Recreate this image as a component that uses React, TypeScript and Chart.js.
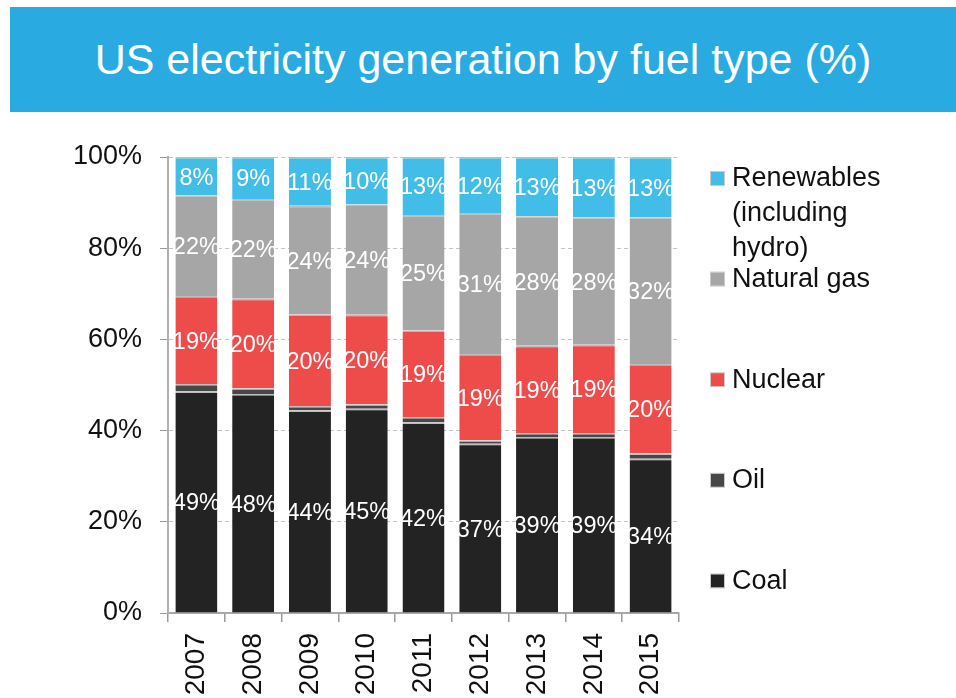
import React, { useEffect, useRef } from "react";
import { Chart, registerables } from "chart.js";

Chart.register(...registerables);

// ---- data (percent of US electricity generation) ----
const years = ["2007", "2008", "2009", "2010", "2011", "2012", "2013", "2014", "2015"];
const coal = [48.6, 48.0, 44.4, 44.8, 41.8, 37.1, 38.6, 38.6, 33.8];
const oil = [1.6, 1.3, 1.0, 1.0, 1.2, 0.8, 0.9, 0.9, 1.2];
const nuclear = [19.3, 19.6, 20.1, 19.6, 19.0, 18.9, 19.1, 19.3, 19.6];
const naturalGas = [22.1, 21.9, 23.8, 24.2, 25.3, 30.9, 28.4, 28.0, 32.2];
const renewables = [8.4, 9.2, 10.7, 10.4, 12.7, 12.3, 13.0, 13.2, 13.2];
const yTickValues = [0, 20, 40, 60, 80, 100];
const titleText = "US electricity generation by fuel type (%)";
const seriesNames = ["Coal", "Oil", "Nuclear", "Natural gas", "Renewables\n(including\nhydro)"];
const seriesColors = ["#232323", "#474747", "#EE4B4B", "#A6A6A6", "#41BDE8"];
const labelledSeries = [true, false, true, true, true];

const FONT = '"Liberation Sans", Arial, Helvetica, sans-serif';

const valueLabelPlugin = {
  id: "valueLabels",
  afterDatasetsDraw(chart: any) {
    const ctx = chart.ctx;
    ctx.save();
    ctx.font = `23.5px ${FONT}`;
    ctx.fillStyle = "#ffffff";
    ctx.textAlign = "center";
    ctx.textBaseline = "middle";
    chart.data.datasets.forEach((ds: any, di: number) => {
      if (!labelledSeries[di]) return;
      const meta = chart.getDatasetMeta(di);
      meta.data.forEach((bar: any, i: number) => {
        const p = bar.getProps(["x", "y", "base"], true);
        ctx.fillText(Math.round(ds.data[i]) + "%", p.x, (p.y + p.base) / 2 + 2);
      });
    });
    ctx.restore();
  },
};

const sideLegendPlugin = {
  id: "sideLegend",
  afterDraw(chart: any) {
    const ctx = chart.ctx;
    const legendX = 711;
    const legendTop = 178;
    const step = 100.6;
    const lineH = 35;
    ctx.save();
    ctx.font = `27px ${FONT}`;
    ctx.textBaseline = "middle";
    ctx.textAlign = "left";
    const ds = chart.data.datasets.slice().reverse();
    ds.forEach((d: any, i: number) => {
      const y = legendTop + i * step;
      ctx.fillStyle = d.backgroundColor;
      ctx.fillRect(legendX, y - 6, 13, 13);
      ctx.strokeStyle = "rgba(150,150,150,0.5)";
      ctx.lineWidth = 1;
      ctx.strokeRect(legendX - 0.5, y - 6.5, 14, 14);
      ctx.fillStyle = "#111111";
      String(d.label)
        .split("\n")
        .forEach((line: string, j: number) => ctx.fillText(line, legendX + 21, y + 1 + j * lineH));
    });
    ctx.restore();
  },
};

export default function App() {
  const canvasRef = useRef<HTMLCanvasElement | null>(null);

  useEffect(() => {
    if (!canvasRef.current) return;
    Chart.defaults.font.family = FONT;
    const seriesData = [coal, oil, nuclear, naturalGas, renewables];
    const chart = new Chart(canvasRef.current, {
      type: "bar",
      data: {
        labels: years,
        datasets: seriesData.map((d, i) => ({
          label: seriesNames[i],
          data: d,
          backgroundColor: seriesColors[i],
          borderColor: "#bdbdbd",
          borderWidth: { top: 1.5, bottom: 0, left: 0, right: 0 },
          borderSkipped: false,
          barPercentage: 0.74,
          categoryPercentage: 1,
        })),
      },
      options: {
        animation: false,
        responsive: false,
        maintainAspectRatio: false,
        layout: { padding: { left: 60, top: 157, right: 277, bottom: 0 } },
        plugins: {
          legend: { display: false },
          title: { display: false },
          tooltip: { enabled: false },
        },
        scales: {
          x: {
            stacked: true,
            afterFit: (axis: any) => {
              axis.height = 85;
            },
            grid: {
              display: true,
              offset: true,
              drawOnChartArea: false,
              drawTicks: true,
              tickLength: 9,
              color: "#9a9a9a",
              lineWidth: 1.5,
            },
            border: { display: true, color: "#a8a8a8", width: 2 },
            ticks: {
              autoSkip: false,
              minRotation: 90,
              maxRotation: 90,
              padding: 11,
              color: "#111111",
              font: { size: 28, family: FONT },
            },
          },
          y: {
            stacked: true,
            min: 0,
            max: 100,
            afterFit: (axis: any) => {
              axis.width = 108;
            },
            afterBuildTicks: (axis: any) => {
              axis.ticks = yTickValues.map((v) => ({ value: v }));
            },
            grid: {
              display: true,
              drawOnChartArea: true,
              drawTicks: true,
              tickLength: 8,
              color: "#c4c4c4",
              lineWidth: 1,
              tickColor: "#9a9a9a",
            },
            border: { display: true, color: "#b0b0b0", width: 2, dash: [4, 3] },
            ticks: {
              padding: 18,
              color: "#111111",
              font: { size: 27, family: FONT },
              callback: (v: any) => v + "%",
            },
          },
        },
      },
      plugins: [valueLabelPlugin, sideLegendPlugin],
    } as any);
    return () => chart.destroy();
  }, []);

  return (
    <div style={{ position: "absolute", left: 0, top: 0, width: 956, height: 698, background: "#ffffff", overflow: "hidden" }}>
      <div
        style={{
          position: "absolute",
          left: 10,
          top: 7,
          width: 946,
          height: 105,
          background: "#29ABE2",
          color: "#ffffff",
          fontFamily: FONT,
          fontSize: 43,
          display: "flex",
          alignItems: "center",
          justifyContent: "center",
          whiteSpace: "nowrap",
        }}
      >
        {titleText}
      </div>
      <canvas ref={canvasRef} width={956} height={698} style={{ position: "absolute", left: 0, top: 0, width: 956, height: 698 }} />
    </div>
  );
}
